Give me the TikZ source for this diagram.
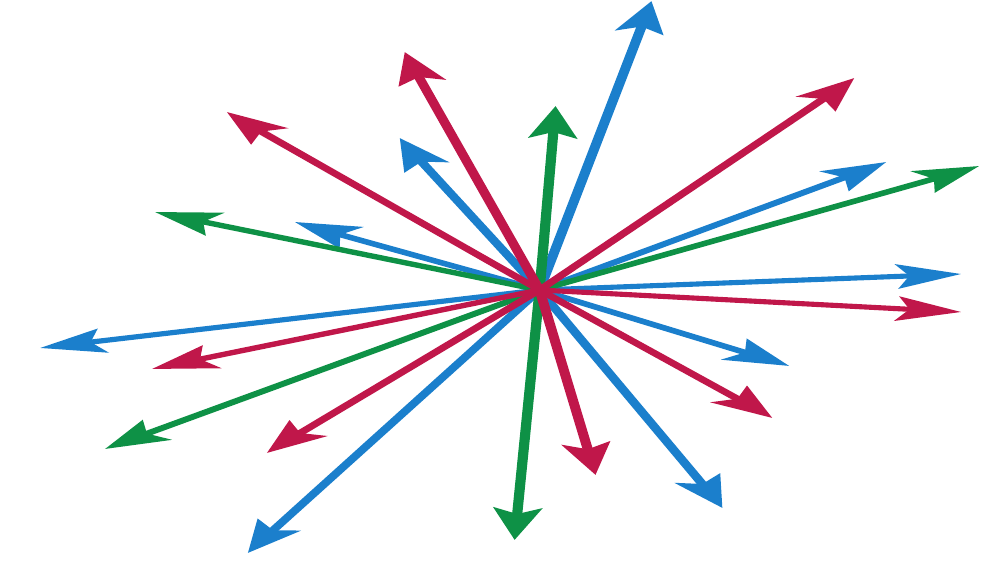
\documentclass[tikz,border=0pt]{standalone}
\usepackage{xcolor}
\usepackage{tikz}
\usetikzlibrary{arrows.meta}

\definecolor{rayblue}{HTML}{1B7FCC}
\definecolor{rayred}{HTML}{C0174A}
\definecolor{raygreen}{HTML}{0E9146}

\tikzset{
  ray/.style={line width=2.9pt, -{Stealth[length=0.64cm, width=0.48cm, inset=0.12cm]}}
}

\begin{document}
\begin{tikzpicture}[x=0.02cm, y=-0.02cm]
\useasboundingbox (0,0) rectangle (1000,563);

% the whole burst is stretched sideways
\begin{scope}[transform canvas={xscale=2}, x=0.01cm]
\coordinate (c) at (540,290);

% Blue arrows
\foreach \n/\x/\y in {b1/652/1, b2/400/138, b3/295/222, b4/40/348,
                      b5/248/553, b6/723/508, b7/790/366, b8/962/274, b9/887/162} {
  \coordinate (\n) at (\x,\y);
  \draw[ray, rayblue] (c) -- (\n);
}

% Green arrows
\foreach \n/\x/\y in {g1/556/106, g2/155/212, g3/105/449, g4/515/540, g5/980/166} {
  \coordinate (\n) at (\x,\y);
  \draw[ray, raygreen] (c) -- (\n);
}

% Red arrows
\foreach \n/\x/\y in {r1/405/52, r2/227/112, r3/152/369, r4/267/453,
                      r5/596/475, r6/773/418, r7/962/312, r8/855/78} {
  \coordinate (\n) at (\x,\y);
  \draw[ray, rayred] (c) -- (\n);
}
\end{scope}
\end{tikzpicture}
\end{document}
